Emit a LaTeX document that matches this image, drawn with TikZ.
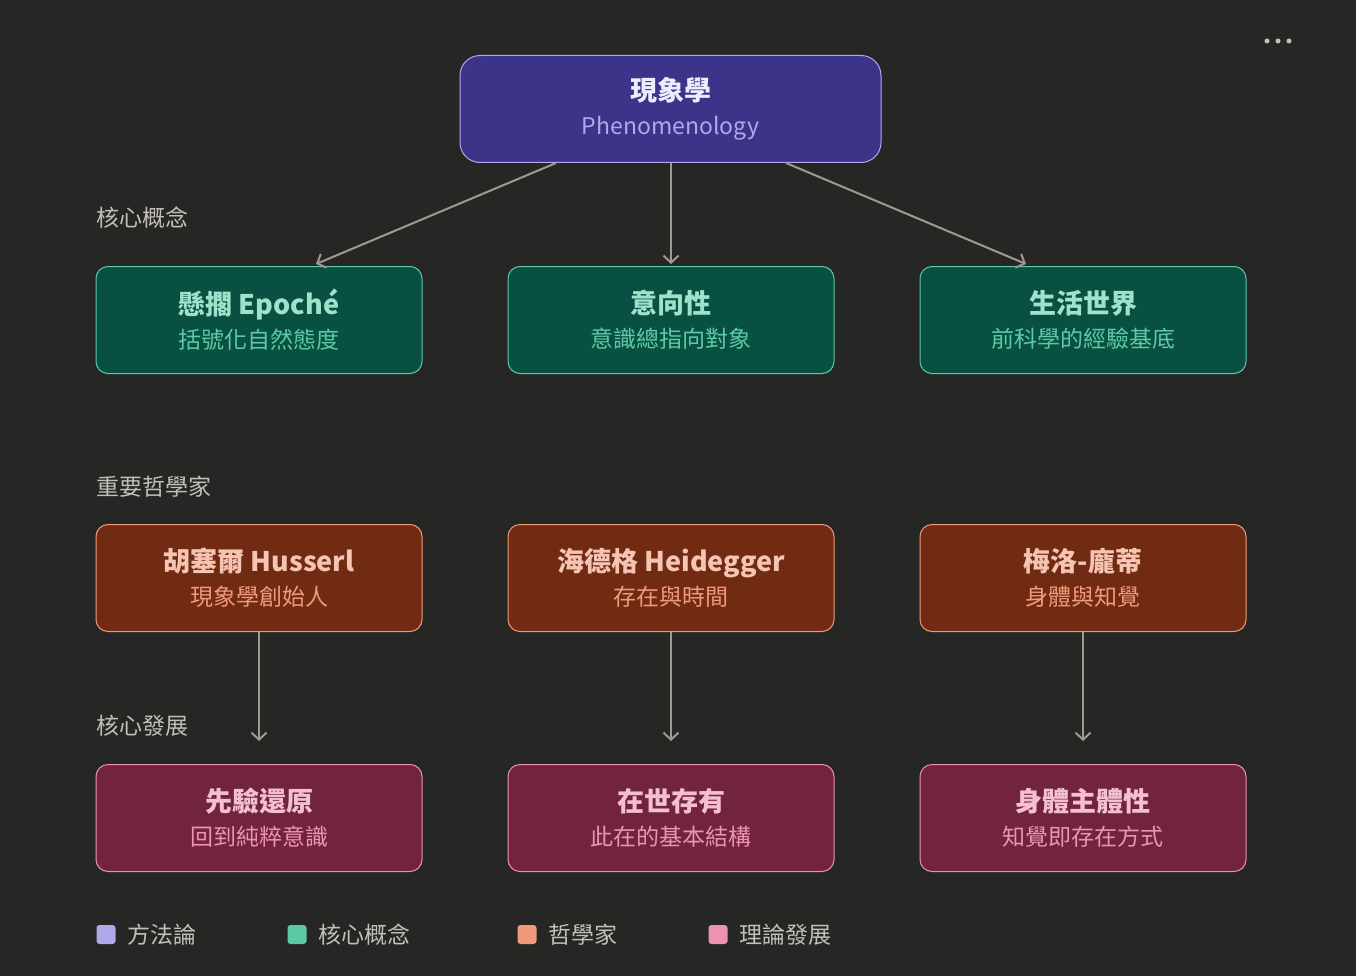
\documentclass[tikz,border=0pt]{standalone}
\usepackage{fontspec}
\setmainfont{Noto Sans CJK TC}
\usetikzlibrary{arrows.meta,positioning,calc}
\definecolor{PhBack}{HTML}{262624}
\definecolor{PhLine}{HTML}{9C9A92}
\definecolor{PhLabel}{HTML}{C2C0B6}
\definecolor{MethFill}{HTML}{3C3489}
\definecolor{MethEdge}{HTML}{AFA9EC}
\definecolor{MethTitle}{HTML}{EEEDFE}
\definecolor{ConcFill}{HTML}{085041}
\definecolor{ConcEdge}{HTML}{5DCAA5}
\definecolor{ConcTitle}{HTML}{9FE1CB}
\definecolor{PhilFill}{HTML}{712B13}
\definecolor{PhilEdge}{HTML}{F0997B}
\definecolor{PhilTitle}{HTML}{F5C4B3}
\definecolor{DevFill}{HTML}{72243E}
\definecolor{DevEdge}{HTML}{ED93B1}
\definecolor{DevTitle}{HTML}{F4C0D1}
\newcommand{\subline}[2]{\\{\fontsize{23}{34}\selectfont\mdseries\color{#1}#2}}

\begin{document}
\begin{tikzpicture}[x=1pt,y=-1pt,
  card/.style={draw,line width=1pt,rounded corners=12pt,minimum width=326pt,minimum height=107pt,align=center,inner sep=0pt,font=\fontsize{27}{34}\selectfont\bfseries},
  method/.style={card,fill=MethFill,draw=MethEdge,text=MethTitle,minimum width=421pt,rounded corners=20pt},
  concept/.style={card,fill=ConcFill,draw=ConcEdge,text=ConcTitle},
  thinker/.style={card,fill=PhilFill,draw=PhilEdge,text=PhilTitle},
  develop/.style={card,fill=DevFill,draw=DevEdge,text=DevTitle},
  section/.style={anchor=west,inner sep=0pt,text=PhLabel,font=\fontsize{23}{26}\selectfont},
  swatch/.style={minimum size=19pt,inner sep=0pt,rounded corners=3pt},
  legend/.style={inner sep=0pt,text=PhLabel,font=\fontsize{23}{26}\selectfont},
  arrow/.style={-{Straight Barb[length=7pt,width=15pt]},line width=2pt,PhLine},
]
\fill[PhBack] (0,0) rectangle (1356,976);
\useasboundingbox (0,0) rectangle (1356,976);
% top
\node[method] (phen) at (670.5,109) {現象學\subline{MethEdge}{Phenomenology}};
% core concepts
\node[section] (lconc) at (96,218) {核心概念};
\node[concept] (epoche) at (259,320) {懸擱 Epoché\subline{ConcEdge}{括號化自然態度}};
\node[concept] (intent) at (671,320) {意向性\subline{ConcEdge}{意識總指向對象}};
\node[concept] (world) at (1083,320) {生活世界\subline{ConcEdge}{前科學的經驗基底}};
% philosophers
\node[section] (lphil) at (96,487) {重要哲學家};
\node[thinker] (husserl) at (259,578) {胡塞爾 Husserl\subline{PhilEdge}{現象學創始人}};
\node[thinker] (heidegger) at (671,578) {海德格 Heidegger\subline{PhilEdge}{存在與時間}};
\node[thinker] (merleau) at (1083,578) {梅洛-龐蒂\subline{PhilEdge}{身體與知覺}};
% developments
\node[section] (ldev) at (96,726) {核心發展};
\node[develop] (reduct) at (259,818) {先驗還原\subline{DevEdge}{回到純粹意識}};
\node[develop] (being) at (671,818) {在世存有\subline{DevEdge}{此在的基本結構}};
\node[develop] (body) at (1083,818) {身體主體性\subline{DevEdge}{知覺即存在方式}};
% connectors
\draw[arrow] ([xshift=-114.5pt]phen.south) -- ([xshift=57pt,yshift=2pt]epoche.north);
\draw[arrow] (phen.south -| intent) -- ([yshift=2pt]intent.north);
\draw[arrow] ([xshift=115.5pt]phen.south) -- ([xshift=-57pt,yshift=2pt]world.north);
\draw[arrow] (husserl) -- ([yshift=23pt]reduct.north);
\draw[arrow] (heidegger) -- ([yshift=23pt]being.north);
\draw[arrow] (merleau) -- ([yshift=23pt]body.north);
% legend
\node[swatch,fill=MethEdge] (sw1) at (106,934.5) {};
\node[legend,right=12pt of sw1] (lg1) {方法論};
\node[swatch,fill=ConcEdge] (sw2) at (297,934.5) {};
\node[legend,right=12pt of sw2] (lg2) {核心概念};
\node[swatch,fill=PhilEdge] (sw3) at (527,934.5) {};
\node[legend,right=12pt of sw3] (lg3) {哲學家};
\node[swatch,fill=DevEdge] (sw4) at (718,934.5) {};
\node[legend,right=12pt of sw4] (lg4) {理論發展};
% menu dots
\foreach \dx in {1267,1278,1289}
  \fill[PhLabel] (\dx,41) circle (2.5pt);
\end{tikzpicture}
\end{document}
